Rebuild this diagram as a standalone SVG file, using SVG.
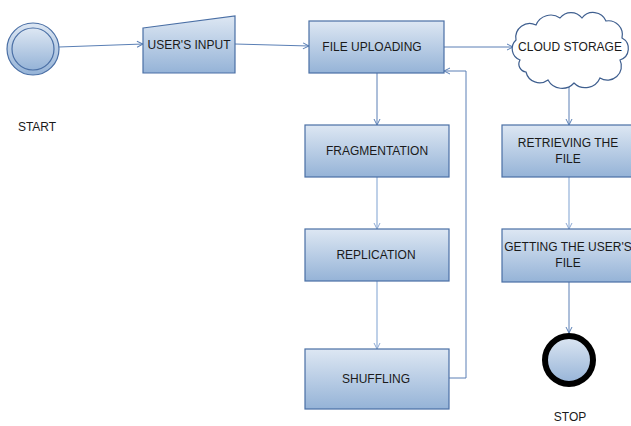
<svg xmlns="http://www.w3.org/2000/svg" width="631" height="426" viewBox="0 0 631 426">
<defs>
<linearGradient id="g" x1="0" y1="0" x2="0" y2="1">
<stop offset="0" stop-color="#dde7f3"/>
<stop offset="1" stop-color="#95b3d7"/>
</linearGradient>
<marker id="ah" markerWidth="8" markerHeight="8" refX="7" refY="4" orient="auto" markerUnits="userSpaceOnUse">
<path d="M1,1 L7,4 L1,7" fill="none" stroke="#5a7fb5" stroke-width="1"/>
</marker>
<marker id="ahl" markerWidth="8" markerHeight="8" refX="7" refY="4" orient="auto" markerUnits="userSpaceOnUse">
<path d="M1,1 L7,4 L1,7" fill="none" stroke="#8eaad4" stroke-width="1"/>
</marker>
</defs>
<style>
.box{fill:url(#g);stroke:#4a6fa5;stroke-width:1.2}
.t{font-family:"Liberation Sans",Arial,sans-serif;font-size:12px;fill:#1a1a1a;text-anchor:middle}
.c{fill:none;stroke:#5a7fb5;stroke-width:1;marker-end:url(#ah)}
.cl{fill:none;stroke:#a9c0e0;stroke-width:1.5;marker-end:url(#ahl)}
</style>
<rect width="631" height="426" fill="#ffffff"/>
<g id="connectors">
<path class="c" d="M59,47 L143,44"/>
<path class="c" d="M235,44 L309,46"/>
<path class="c" d="M444,47 L513,47"/>
<path class="c" d="M377,73 L377,125"/>
<path class="cl" d="M377,177 L377,229"/>
<path class="cl" d="M377,281 L377,349"/>
<path class="c" d="M449,378 L466,378 L466,71 L444,71"/>
<path class="c" d="M569,85 L569,125"/>
<path class="cl" d="M569,177 L569,229"/>
<path class="c" d="M569,282 L569,333"/>
</g>
<g id="start">
<circle cx="33" cy="49" r="26" class="box"/>
<circle cx="33" cy="49" r="21" class="box"/>
<text class="t" x="37" y="131">START</text>
</g>
<g id="users-input">
<path class="box" d="M143,28 L235,16 L235,73 L143,73 Z"/>
<text class="t" x="189" y="49">USER'S INPUT</text>
</g>
<g id="file-uploading">
<rect class="box" x="309" y="21" width="135" height="52"/>
<text class="t" x="372" y="51">FILE UPLOADING</text>
</g>
<g id="cloud-storage">
<path d="M520,60 A12,12 0 0 1 516,40 A14,14 0 0 1 536,25 A16,16 0 0 1 560,18 A14,14 0 0 1 582,18 A14,14 0 0 1 606,21 A14,14 0 0 1 622,38 A12,12 0 0 1 620,60 A14,14 0 0 1 600,78 A16,16 0 0 1 574,83 A16,16 0 0 1 548,80 A14,14 0 0 1 526,72 A8,8 0 0 1 520,60 Z" fill="#ffffff" stroke="#3f5f8f" stroke-width="1.2"/>
<text class="t" x="570" y="51">CLOUD STORAGE</text>
</g>
<g id="fragmentation">
<rect class="box" x="305" y="125" width="144" height="52"/>
<text class="t" x="377" y="155">FRAGMENTATION</text>
</g>
<g id="replication">
<rect class="box" x="305" y="229" width="144" height="52"/>
<text class="t" x="376" y="259">REPLICATION</text>
</g>
<g id="shuffling">
<rect class="box" x="305" y="349" width="144" height="60"/>
<text class="t" x="376" y="383">SHUFFLING</text>
</g>
<g id="retrieving">
<rect class="box" x="502" y="125" width="132" height="52"/>
<text class="t" x="568" y="147">RETRIEVING THE</text>
<text class="t" x="568" y="163">FILE</text>
</g>
<g id="getting">
<rect class="box" x="502" y="229" width="132" height="53"/>
<text class="t" x="568" y="251">GETTING THE USER'S</text>
<text class="t" x="568" y="267">FILE</text>
</g>
<g id="stop">
<circle cx="569" cy="360" r="24" fill="url(#g)" stroke="#000000" stroke-width="6"/>
<text class="t" x="570" y="421">STOP</text>
</g>
</svg>
